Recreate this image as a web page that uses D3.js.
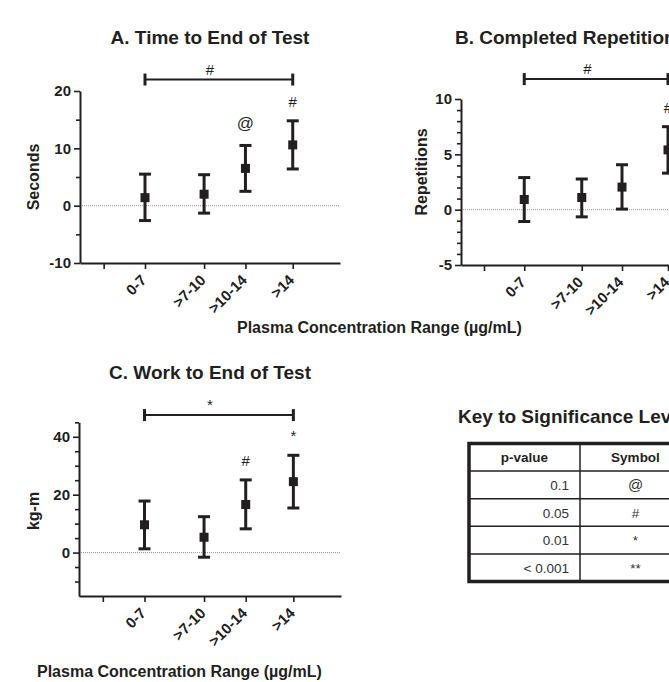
<!DOCTYPE html>
<html>
<head>
<meta charset="utf-8">
<script src="https://cdn.jsdelivr.net/npm/d3@7"></script>
<style>
  html, body { margin: 0; padding: 0; background: #fff; }
  svg { display: block; font-family: "Liberation Sans", Arial, sans-serif; }
</style>
</head>
<body>
<svg id="chart" width="669" height="682"></svg>
<script>
// ---------- DATA ----------
const categories = ["0-7", ">7-10", ">10-14", ">14"];
const concMid = [3.5, 8.5, 12, 16];          // x position of each range (µg/mL)

const timeMean = [1.4, 2.0, 6.5, 10.6];
const timeLow  = [-2.6, -1.3, 2.5, 6.4];
const timeHigh = [5.5, 5.4, 10.5, 14.8];
const timeSig  = ["", "", "@", "#"];

const repsMean = [0.92, 1.1, 2.04, 5.4];
const repsLow  = [-1.07, -0.65, 0.05, 3.3];
const repsHigh = [2.9, 2.77, 4.06, 7.5];
const repsSig  = ["", "", "", "#"];

const workMean = [9.6, 5.3, 16.6, 24.5];
const workLow  = [1.3, -1.6, 8.2, 15.4];
const workHigh = [17.8, 12.4, 25.1, 33.6];
const workSig  = ["", "", "#", "*"];

const timeTicks = [-10, 0, 10, 20];
const repsTicks = [-5, 0, 5, 10];
const workTicks = [0, 20, 40];

const bracketLevels = [22, 11.8, 47.5];      // y value of the 0-7 vs >14 bracket
const bracketLabels = ["#", "#", "*"];
const bracketLabelX = 9;                      // x value where the bracket symbol sits

const keyPValues = ["0.1", "0.05", "0.01", "< 0.001"];
const keySymbols = ["@", "#", "*", "**"];

// ---------- DRAWING ----------
const INK = "#231f20";
const svg = d3.select("#chart");

function panel(cfg) {
  const g = svg.append("g");
  const x = d3.scaleLinear().domain([-2, 20]).range(cfg.xRange);
  const y = d3.scaleLinear().domain(cfg.yDomain).range(cfg.yRange);
  const x0 = cfg.xRange[0], x1 = cfg.xRange[1];
  const yBottom = cfg.yRange[0];

  // zero reference line (dotted)
  g.append("line")
    .attr("x1", x0).attr("x2", x1)
    .attr("y1", y(0)).attr("y2", y(0))
    .attr("stroke", "#9a9a9a").attr("stroke-width", 1)
    .attr("stroke-dasharray", "1,1");

  // y axis minor ticks
  const minor = d3.range(cfg.yDomain[0], cfg.yDomain[1] + 1e-9, cfg.minorStep)
    .filter(v => !cfg.yTicks.includes(v) && v !== cfg.yDomain[0]);
  const yMinor = g.append("g").attr("transform", `translate(${x0},0)`)
    .call(d3.axisLeft(y).tickValues(minor).tickSize(4).tickSizeOuter(0).tickFormat(""));
  yMinor.select(".domain").remove();
  yMinor.selectAll(".tick line").attr("stroke", INK).attr("stroke-width", 1.6);

  const yAx = g.append("g").attr("transform", `translate(${x0},0)`)
    .call(d3.axisLeft(y).tickValues(cfg.yTicks).tickSize(6).tickSizeOuter(0).tickPadding(3)
      .tickFormat(d => String(d)));
  yAx.select(".domain").attr("stroke", INK).attr("stroke-width", 2);
  yAx.selectAll(".tick line").attr("stroke", INK).attr("stroke-width", 1.6);
  yAx.selectAll(".tick text")
    .attr("fill", INK).attr("font-size", 15).attr("font-weight", "bold")
    .attr("font-family", "Liberation Sans, Arial, sans-serif");

  // x axis
  const xAx = g.append("g").attr("transform", `translate(0,${yBottom})`)
    .call(d3.axisBottom(x).tickValues([0].concat(concMid)).tickSize(6).tickSizeOuter(0)
      .tickFormat(v => { const i = concMid.indexOf(v); return i >= 0 ? categories[i] : ""; }));
  xAx.select(".domain").attr("stroke", INK).attr("stroke-width", 2);
  xAx.selectAll(".tick line").attr("stroke", INK).attr("stroke-width", 1.6);
  xAx.selectAll(".tick text")
    .attr("fill", INK).attr("font-size", 15).attr("font-weight", "bold")
    .attr("font-family", "Liberation Sans, Arial, sans-serif")
    .attr("text-anchor", "end")
    .attr("dy", null).attr("y", null)
    .attr("transform", "translate(2,18) rotate(-45)");

  // error bars
  const pts = categories.map((c, i) => ({ x: concMid[i], m: cfg.mean[i], lo: cfg.low[i], hi: cfg.high[i], s: cfg.sig[i] }));
  const eb = g.append("g");
  eb.selectAll(".stem").data(pts).join("line")
    .attr("x1", d => x(d.x)).attr("x2", d => x(d.x))
    .attr("y1", d => y(d.lo)).attr("y2", d => y(d.hi))
    .attr("stroke", INK).attr("stroke-width", 3);
  ["lo", "hi"].forEach(k => {
    eb.selectAll(".cap" + k).data(pts).join("line")
      .attr("x1", d => x(d.x) - 6).attr("x2", d => x(d.x) + 6)
      .attr("y1", d => y(d[k])).attr("y2", d => y(d[k]))
      .attr("stroke", INK).attr("stroke-width", 3);
  });
  eb.selectAll("rect").data(pts).join("rect")
    .attr("x", d => x(d.x) - 4.5).attr("y", d => y(d.m) - 4.5)
    .attr("width", 9).attr("height", 9).attr("fill", INK);

  // significance symbols
  g.selectAll(".sig").data(pts.filter(d => d.s)).join("text")
    .attr("x", d => x(d.x)).attr("y", d => y(d.hi) - (d.s === "@" ? 16 : 14))
    .attr("text-anchor", "middle").attr("fill", INK)
    .attr("font-size", d => d.s === "@" ? 17 : 15)
    .text(d => d.s);

  // bracket
  const by = y(cfg.bracket);
  const bx0 = x(concMid[0]), bx1 = x(concMid[3]);
  g.append("line").attr("x1", bx0).attr("x2", bx1).attr("y1", by).attr("y2", by)
    .attr("stroke", INK).attr("stroke-width", 2);
  [bx0, bx1].forEach(bx => g.append("line")
    .attr("x1", bx).attr("x2", bx).attr("y1", by - 6).attr("y2", by + 6)
    .attr("stroke", INK).attr("stroke-width", 3));
  g.append("text").attr("x", x(bracketLabelX)).attr("y", by - 5)
    .attr("text-anchor", "middle").attr("fill", INK).attr("font-size", 15)
    .text(cfg.bracketLabel);

  // title
  g.append("text").attr("x", cfg.titleX).attr("y", cfg.titleY)
    .attr("text-anchor", cfg.titleAnchor || "middle")
    .attr("font-size", 19).attr("font-weight", "bold").attr("fill", INK)
    .text(cfg.title);

  // y label
  g.append("text")
    .attr("transform", `translate(${cfg.yLabelX},${cfg.yLabelY}) rotate(-90)`)
    .attr("text-anchor", "middle")
    .attr("font-size", 16).attr("font-weight", "bold").attr("fill", INK)
    .text(cfg.yLabel);
}

panel({
  xRange: [80, 340], yDomain: [-10, 20], yRange: [263, 91], yTicks: timeTicks, minorStep: 5,
  mean: timeMean, low: timeLow, high: timeHigh, sig: timeSig,
  bracket: bracketLevels[0], bracketLabel: bracketLabels[0],
  title: "A. Time to End of Test", titleX: 210, titleY: 44,
  yLabel: "Seconds", yLabelX: 39, yLabelY: 177
});

panel({
  xRange: [461, 714], yDomain: [-5, 10], yRange: [265, 99], yTicks: repsTicks, minorStep: 1,
  mean: repsMean, low: repsLow, high: repsHigh, sig: repsSig,
  bracket: bracketLevels[1], bracketLabel: bracketLabels[1],
  title: "B. Completed Repetitions", titleX: 455, titleY: 44, titleAnchor: "start",
  yLabel: "Repetitions", yLabelX: 427, yLabelY: 172
});

panel({
  xRange: [79, 341], yDomain: [-15, 45], yRange: [596, 422.3], yTicks: workTicks, minorStep: 5,
  mean: workMean, low: workLow, high: workHigh, sig: workSig,
  bracket: bracketLevels[2], bracketLabel: bracketLabels[2],
  title: "C. Work to End of Test", titleX: 210, titleY: 379,
  yLabel: "kg-m", yLabelX: 39, yLabelY: 511
});

// shared x-axis titles
svg.append("text").attr("x", 237).attr("y", 333)
  .attr("font-size", 16).attr("font-weight", "bold").attr("fill", INK)
  .text("Plasma Concentration Range (µg/mL)");
svg.append("text").attr("x", 37).attr("y", 677)
  .attr("font-size", 16).attr("font-weight", "bold").attr("fill", INK)
  .text("Plasma Concentration Range (µg/mL)");

// ---------- KEY TABLE ----------
const key = svg.append("g");
key.append("text").attr("x", 458).attr("y", 423)
  .attr("font-size", 19).attr("font-weight", "bold").attr("fill", INK)
  .text("Key to Significance Levels");

const tx0 = 469, tx1 = 691, tMid = 580, ty0 = 443.5, rowH = 27;
const rows = keyPValues.map((p, i) => ({ p, s: keySymbols[i] }));
const nRows = rows.length + 1;
const rowY = d3.scaleLinear().domain([0, nRows]).range([ty0, ty0 + rowH * nRows + 3]);

key.selectAll(".hline").data(d3.range(1, nRows)).join("line")
  .attr("x1", tx0).attr("x2", tx1).attr("y1", d => rowY(d)).attr("y2", d => rowY(d))
  .attr("stroke", INK).attr("stroke-width", 1.5);
key.append("line").attr("x1", tMid).attr("x2", tMid).attr("y1", ty0).attr("y2", rowY(nRows))
  .attr("stroke", INK).attr("stroke-width", 1.5);
key.append("rect").attr("x", tx0).attr("y", ty0).attr("width", tx1 - tx0).attr("height", rowY(nRows) - ty0)
  .attr("fill", "none").attr("stroke", INK).attr("stroke-width", 3.5);

key.append("text").attr("x", (tx0 + tMid) / 2).attr("y", rowY(0.5) + 5)
  .attr("text-anchor", "middle").attr("font-size", 13.5).attr("font-weight", "bold").attr("fill", INK)
  .text("p-value");
key.append("text").attr("x", (tMid + tx1) / 2).attr("y", rowY(0.5) + 5)
  .attr("text-anchor", "middle").attr("font-size", 13.5).attr("font-weight", "bold").attr("fill", INK)
  .text("Symbol");
key.selectAll(".pv").data(rows).join("text")
  .attr("x", tMid - 11).attr("y", (d, i) => rowY(i + 1.5) + 5)
  .attr("text-anchor", "end").attr("font-size", 13.5).attr("fill", "#333")
  .text(d => d.p);
key.selectAll(".sym").data(rows).join("text")
  .attr("x", (tMid + tx1) / 2).attr("y", (d, i) => rowY(i + 1.5) + 5)
  .attr("text-anchor", "middle").attr("font-size", d => d.s === "@" ? 15 : 13.5).attr("fill", "#333")
  .text(d => d.s);
</script>
</body>
</html>
